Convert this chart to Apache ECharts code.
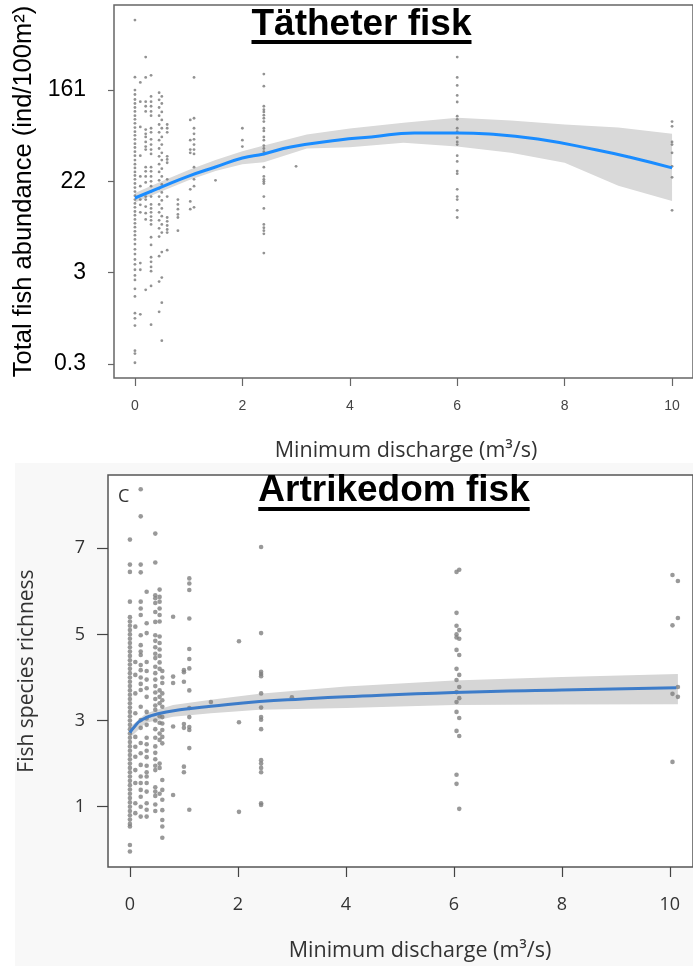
<!DOCTYPE html>
<html><head><meta charset="utf-8">
<script src="https://cdn.jsdelivr.net/npm/echarts@6/dist/echarts.min.js"></script>
<style>html,body{margin:0;padding:0;background:#fff}#c{width:693px;height:966px}</style>
</head><body><div id="c"></div>
<script>
// ---------- Top panel: total fish abundance (ind/100m²) ----------
const abundTickLabels = ['0.3', '3', '22', '161'];
const abundTicks = [0.3, 3, 22, 161];
const dischargeTop = [0, 0.1, 0.2, 0.3, 0.45, 0.5, 0.6, 0.8, 1.03, 1.1, 1.5, 2.0, 2.4, 3.0, 6.0, 10.0];
const abundanceTop = [
  [740, 213, 161, 146, 131, 120, 110, 101, 92, 85, 78, 71, 65, 60, 55, 50, 46, 42, 38.5, 35, 32, 29.5, 27, 25, 23, 21, 19.2, 17.6, 16.1, 14.8, 13.6, 12.5, 11.4, 10.5, 9.6, 8.8, 8.1, 7.4, 6.8, 6.2, 5.6, 5.0, 4.5, 4.0, 3.6, 3.2, 2.8, 2.5, 2.0, 1.65, 1.08, 0.95, 0.79, 0.42, 0.39, 0.31],
  [190, 125, 72, 38.5, 24.5, 19.8, 14.8, 13.2, 11.2, 3.7, 3.2, 1.05],
  [330, 212, 125, 113, 101, 68, 62, 58, 52, 47, 44, 30, 27.4, 24.5, 21.5, 15.8, 14.8, 12.7, 11, 9.6, 1.95],
  [222, 140, 125, 113, 101, 92, 70, 64, 55, 49, 44, 40, 30, 27.4, 24.5, 22, 19.8, 17.6, 15.8, 13.3, 12.2, 11.2, 10.2, 9.4, 8.6, 6.5, 5.5, 4.2, 3.8, 3.4, 3.1, 2.15, 0.81],
  [152, 130, 110, 92, 76, 64, 54, 45, 38, 32, 27, 22.5, 18.9, 15.8, 13.3, 11.2, 9.4, 7.9, 6.6, 4.3, 2.4, 1.12],
  [140, 120, 100, 84, 70, 58, 49, 41, 35, 29, 24.5, 20.6, 17.3, 14.5, 12.2, 10.3, 8.6, 7.2, 4.7, 2.65, 1.41, 0.54],
  [76, 70, 64, 38, 35.5, 33, 23, 15.8, 10, 9.2, 8.4, 7.7, 7.2, 4.9],
  [14.8, 13.3, 12, 10.7, 10, 7.5],
  [84, 54, 44, 41, 18.5, 14.2, 12],
  [212, 87, 70, 62, 55, 49, 44, 40, 30, 23, 19.8, 12.5],
  [22.5],
  [70, 54, 47],
  [228, 175, 113, 105, 100, 93, 87, 81, 70, 66, 58, 54, 48, 45, 42, 40, 30, 24.5, 23, 22, 21, 15.8, 12.2, 8.6, 8.0, 7.5, 7.0, 4.6],
  [30.5],
  [330, 212, 178, 143, 124, 91, 85, 70, 65, 57, 52, 49, 38.5, 34, 27.5, 26, 18.5, 15.8, 14.8, 11.7, 10],
  [81, 73, 52, 49, 41, 30.5, 24, 11.7]
];
const fitTopX = [0, 0.5, 1, 1.5, 2, 2.4, 2.9, 3.8, 4.4, 5.2, 6, 6.6, 7.5, 8.6, 9.2, 10];
const fitTopY = [15.3, 19.5, 24.7, 30.1, 36.6, 40, 46.6, 54.2, 57.9, 63.2, 63.2, 61.8, 55.4, 43.6, 37.4, 29.5];
const bandTopX = [0, 0.5, 1, 1.5, 2, 2.4, 3.2, 4, 5, 6, 7, 8, 9, 10];
const bandTopUpper = [17.1, 22, 28.2, 35, 42.5, 48, 61, 69.5, 79, 88, 83, 76, 71, 62];
const bandTopLower = [13.9, 17.7, 22.5, 27.6, 32, 33.4, 45, 46.3, 51, 47, 41, 33, 20, 14.3];

// ---------- Bottom panel: fish species richness ----------
const dischargeBottom = [0, 0.1, 0.2, 0.31, 0.47, 0.55, 0.6, 0.8, 1.0, 1.1, 1.5, 2.02, 2.43, 3.0, 6.05, 6.1, 10.05, 10.15];
const richnessBottom = [
  [7.2, 6.62, 6.45, 5.76, 5.4, 5.3, 5.2, 5.1, 5.0, 4.9, 4.8, 4.7, 4.6, 4.5, 4.4, 4.3, 4.2, 4.1, 4.0, 3.9, 3.8, 3.7, 3.6, 3.5, 3.4, 3.3, 3.2, 3.1, 3.0, 2.9, 2.8, 2.7, 2.6, 2.5, 2.4, 2.3, 2.2, 2.1, 2.0, 1.9, 1.8, 1.7, 1.6, 1.5, 1.4, 1.3, 1.2, 1.1, 1.0, 0.9, 0.8, 0.7, 0.6, 0.54, 0.11, -0.04],
  [5.18, 4.36, 4.06, 3.63, 3.17, 2.62, 2.39, 2.16, 1.85, 1.55, 1.08, 0.85],
  [8.37, 7.74, 6.62, 6.44, 5.76, 5.6, 5.45, 4.98, 4.75, 4.6, 4.52, 4.29, 4.17, 4.0, 3.85, 3.71, 3.32, 3.01, 2.83, 2.48, 2.24, 1.97, 1.7, 1.55, 1.39, 1.23, 1.0, 0.77],
  [5.99, 5.26, 5.03, 4.36, 4.15, 3.95, 3.75, 3.55, 3.2, 3.05, 2.9, 2.6, 2.45, 2.3, 2.15, 1.95, 1.8, 1.7, 1.55, 1.35, 1.08, 0.93, 0.77],
  [7.34, 6.67, 5.91, 5.84, 5.73, 5.52, 5.29, 4.98, 4.85, 4.7, 4.55, 4.45, 4.25, 4.1, 3.95, 3.8, 3.65, 3.5, 3.35, 3.25, 3.0, 2.8, 2.6, 2.4, 2.25, 2.1, 1.95, 1.85, 1.45, 1.35, 1.25, 1.05, 0.9],
  [6.04, 5.87, 5.76, 5.6, 5.45, 5.3, 4.95, 4.8, 4.65, 4.5, 4.35, 4.2, 3.7, 3.55, 3.4, 3.1, 2.95, 2.7, 2.55, 2.0, 1.9, 1.3],
  [4.15, 4.0, 3.87, 3.63, 3.47, 3.32, 3.08, 2.93, 2.78, 2.62, 2.47, 1.62, 1.39, 1.16, 0.92, 0.69, 0.54, 0.28],
  [5.41, 4.02, 3.87, 2.86, 1.27],
  [4.17, 4.12, 3.9, 2.92, 2.83, 1.93, 1.8],
  [6.3, 6.18, 6.03, 5.37, 4.66, 4.43, 4.21, 3.7, 3.29, 3.08, 2.85, 2.78, 2.36, 0.93],
  [3.43],
  [4.84, 2.96, 0.88],
  [7.03, 5.03, 4.13, 4.08, 4.03, 3.63, 3.3, 3.08, 3.02, 2.8, 2.08, 2.0, 1.9, 1.8, 1.08, 1.04],
  [3.54],
  [6.45, 5.5, 5.2, 5.0, 4.93, 4.64, 4.2, 3.94, 3.66, 3.43, 3.2, 2.76, 1.74, 1.53],
  [6.5, 5.1, 4.9, 4.52, 4.06, 3.78, 3.52, 3.06, 2.64, 0.95],
  [6.38, 5.21, 3.62, 2.04],
  [6.24, 5.38, 3.78, 3.55]
];
const fitBotX = [0, 0.08, 0.2, 0.5, 1.0, 1.5, 2.4, 3.2, 4, 6, 8, 10.12];
const fitBotY = [2.72, 2.85, 3.0, 3.15, 3.26, 3.33, 3.44, 3.5, 3.55, 3.65, 3.71, 3.76];
const bandBotX = [0, 0.3, 0.8, 1.5, 2.4, 4, 6, 8, 10.15];
const bandBotUpper = [2.85, 3.17, 3.36, 3.48, 3.62, 3.79, 3.93, 4.01, 4.08];
const bandBotLower = [2.6, 2.95, 3.09, 3.17, 3.25, 3.29, 3.36, 3.37, 3.38];

const xTicks = [0, 2, 4, 6, 8, 10];

// abundance -> axis position (tick labels are equally spaced; log-interpolated between them)
function abundPos(v) {
  const L = abundTicks.map(Math.log);
  const lv = Math.log(v);
  let i = lv <= L[1] ? 0 : (lv <= L[2] ? 1 : 2);
  return i + (lv - L[i]) / (L[i + 1] - L[i]);
}

const topPoints = [];
dischargeTop.forEach((x, i) => abundanceTop[i].forEach(v => topPoints.push([x, abundPos(v)])));
const botPoints = [];
dischargeBottom.forEach((x, i) => richnessBottom[i].forEach(v => botPoints.push([x, v])));

function bandSeries(gi, xs, up, lo, tf, color) {
  return {
    type: 'custom', xAxisIndex: gi, yAxisIndex: gi, z: 1, silent: true,
    data: [[xs[0], tf(lo[0])]],
    renderItem: (params, api) => {
      const pts = [];
      xs.forEach((x, i) => pts.push(api.coord([x, tf(up[i])])));
      for (let i = xs.length - 1; i >= 0; i--) pts.push(api.coord([xs[i], tf(lo[i])]));
      return { type: 'polygon', shape: { points: pts }, style: { fill: color } };
    }
  };
}

function textWidth(font, s) {
  const c = document.createElement('canvas').getContext('2d');
  c.font = font; return c.measureText(s).width;
}
const titleFont = 'bold 37px "Liberation Sans"';
const t1 = 'Tätheter fisk', t2 = 'Artrikedom fisk';
const w1 = textWidth(titleFont, t1), w2 = textWidth(titleFont, t2);
const c1x = 361.5, c2x = 394;

const myriad = '"Open Sans", "Noto Sans", sans-serif';
const chart = echarts.init(document.getElementById('c'), null, { renderer: 'canvas' });
chart.setOption({
  animation: false,
  backgroundColor: '#fff',
  graphic: [
    { type: 'rect', z: -10, shape: { x: 15, y: 463, width: 680, height: 505 }, style: { fill: '#f8f8f8' } },
    { type: 'text', z: 10, style: { text: t1, x: c1x, y: 25, align: 'center', verticalAlign: 'middle', font: titleFont, fill: '#000' } },
    { type: 'rect', z: 10, shape: { x: c1x - w1 / 2, y: 40, width: w1, height: 4 }, style: { fill: '#000' } },
    { type: 'text', z: 10, style: { text: t2, x: c2x, y: 491, align: 'center', verticalAlign: 'middle', font: titleFont, fill: '#000' } },
    { type: 'rect', z: 10, shape: { x: c2x - w2 / 2, y: 507, width: w2, height: 4 }, style: { fill: '#000' } },
    { type: 'text', z: 10, style: { text: 'C', x: 118, y: 497, align: 'left', verticalAlign: 'middle', font: '18px ' + myriad, fill: '#333' } },
    { type: 'text', z: 10, style: { text: 'Minimum discharge (m³/s)', x: 406, y: 451, align: 'center', verticalAlign: 'middle', font: '21.5px ' + myriad, fill: '#333' } },
    { type: 'text', z: 10, style: { text: 'Minimum discharge (m³/s)', x: 420, y: 951, align: 'center', verticalAlign: 'middle', font: '21.5px ' + myriad, fill: '#333' } }
  ],
  grid: [
    { left: 114, top: 5, width: 581, height: 373, show: true, borderColor: '#666', borderWidth: 1.5, backgroundColor: '#fff' },
    { left: 108, top: 475, width: 587, height: 392, show: true, borderColor: '#555', borderWidth: 1.5, backgroundColor: '#fff' }
  ],
  xAxis: [
    { gridIndex: 0, type: 'value', min: -0.39, max: 10.39,
      axisLine: { show: false, onZero: false }, splitLine: { show: false },
      axisTick: { show: true, length: 8, customValues: xTicks, lineStyle: { color: '#666', width: 1.2 } },
      axisLabel: { customValues: xTicks, margin: 21, fontSize: 14, color: '#444', fontFamily: '"Liberation Sans Narrow", "Liberation Sans", sans-serif' } },
    { gridIndex: 1, type: 'value', min: -0.406, max: 10.43,
      axisLine: { show: false, onZero: false }, splitLine: { show: false },
      axisTick: { show: true, length: 10, customValues: xTicks, lineStyle: { color: '#444', width: 1.2 } },
      axisLabel: { customValues: xTicks, margin: 29, fontSize: 18, color: '#333', fontFamily: myriad } }
  ],
  yAxis: [
    { gridIndex: 0, type: 'value', min: -0.153, max: 3.931,
      name: 'Total fish abundance (ind/100m²)', nameLocation: 'middle', nameGap: 75, nameRotate: 90,
      nameTextStyle: { fontSize: 25.5, color: '#000', fontFamily: '"Liberation Sans", Arial, sans-serif' },
      axisLine: { show: false, onZero: false }, splitLine: { show: false },
      axisTick: { show: true, length: 6, customValues: [0, 1, 2, 3], lineStyle: { color: '#666', width: 1.2 } },
      axisLabel: { customValues: [0, 1, 2, 3], margin: 28, fontSize: 23, color: '#000', fontFamily: '"Liberation Sans", Arial, sans-serif',
        formatter: v => abundTickLabels[Math.round(v)] } },
    { gridIndex: 1, type: 'value', min: -0.40, max: 8.70,
      name: 'Fish species richness', nameLocation: 'middle', nameGap: 70, nameRotate: 90,
      nameTextStyle: { fontSize: 21, color: '#333', fontFamily: myriad },
      axisLine: { show: false, onZero: false }, splitLine: { show: false },
      axisTick: { show: true, length: 11, customValues: [1, 3, 5, 7], lineStyle: { color: '#444', width: 1.2 } },
      axisLabel: { customValues: [1, 3, 5, 7], margin: 23, fontSize: 18, color: '#333', fontFamily: myriad } }
  ],
  series: [
    bandSeries(0, bandTopX, bandTopUpper, bandTopLower, abundPos, '#d9d9d9'),
    { type: 'scatter', xAxisIndex: 0, yAxisIndex: 0, z: 2, data: topPoints, symbolSize: 2.8,
      itemStyle: { color: '#777' }, silent: true },
    { type: 'line', xAxisIndex: 0, yAxisIndex: 0, z: 3, smooth: true, symbol: 'none',
      data: fitTopX.map((x, i) => [x, abundPos(fitTopY[i])]),
      lineStyle: { color: '#1a8cff', width: 3 } },
    bandSeries(1, bandBotX, bandBotUpper, bandBotLower, v => v, '#d6d6d6'),
    { type: 'scatter', xAxisIndex: 1, yAxisIndex: 1, z: 2, data: botPoints, symbolSize: 4.6,
      itemStyle: { color: '#7f7f7f' }, silent: true },
    { type: 'line', xAxisIndex: 1, yAxisIndex: 1, z: 3, smooth: true, symbol: 'none',
      data: fitBotX.map((x, i) => [x, fitBotY[i]]),
      lineStyle: { color: '#3d7cc9', width: 3 } }
  ]
});
</script>
</body></html>
